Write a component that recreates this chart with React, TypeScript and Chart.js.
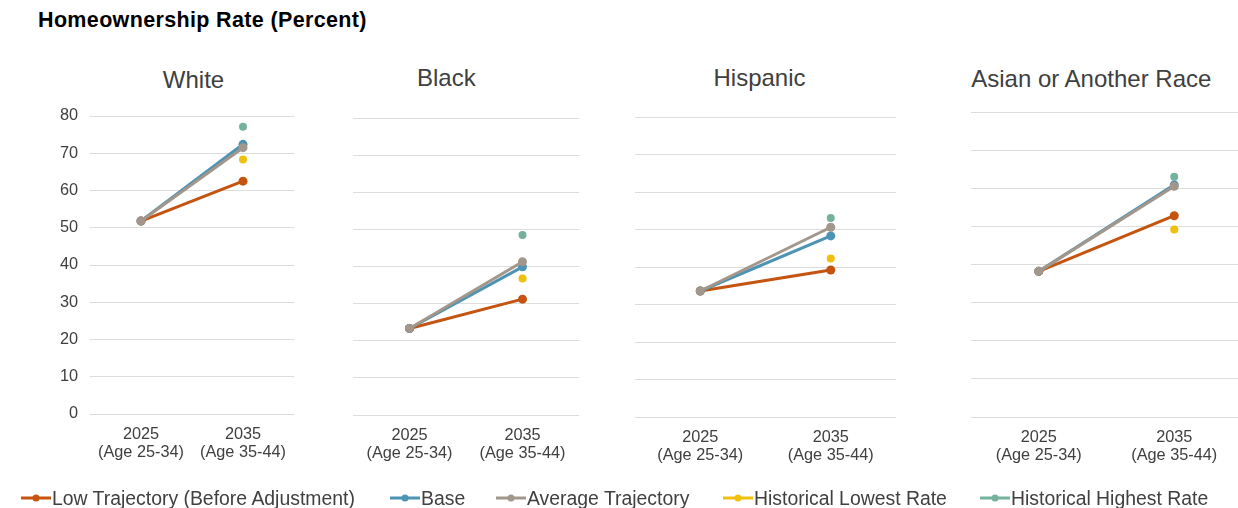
import React, { useEffect, useRef } from "react";
import { Chart, registerables } from "chart.js";

Chart.register(...registerables);

// ---------- data ----------
const mainTitle = "Homeownership Rate (Percent)";
const categories = [
  ["2025", "(Age 25-34)"],
  ["2035", "(Age 35-44)"],
];
const panelTitles = ["White", "Black", "Hispanic", "Asian or Another Race"];
const seriesNames = [
  "Low Trajectory (Before Adjustment)",
  "Base",
  "Average Trajectory",
  "Historical Lowest Rate",
  "Historical Highest Rate",
];
const seriesColors = ["#C4540F", "#4D93B4", "#A3968B", "#F0C00C", "#74B29C"];

// per panel: [2025, 2035]
const lowTrajectory = [
  [51.8, 62.5],
  [23.3, 31.2],
  [33.6, 39.2],
  [38.2, 52.8],
];
const base = [
  [51.8, 72.4],
  [23.3, 39.9],
  [33.6, 48.3],
  [38.2, 60.9],
];
const averageTrajectory = [
  [51.8, 71.5],
  [23.3, 41.3],
  [33.6, 50.6],
  [38.2, 60.5],
];
// per panel: value at 2035 only
const historicalLowest = [68.3, 36.8, 42.3, 49.2];
const historicalHighest = [77.1, 48.5, 53.1, 63.0];

const yMin = 0;
const yMax = 80;
const yStep = 10;

// ---------- layout ----------
const FONT = "'Liberation Sans', Arial, Helvetica, sans-serif";
const TEXT = "#404040";

const panelBoxes = [
  { left: 40, plotLeft: 90, plotRight: 294, plotTop: 116, plotBottom: 414, titleCenter: 193.5, titleTop: 68, showY: true },
  { left: 353, plotLeft: 353, plotRight: 579, plotTop: 118, plotBottom: 415, titleCenter: 446.3, titleTop: 66.4, showY: false },
  { left: 635, plotLeft: 635, plotRight: 896, plotTop: 117, plotBottom: 417, titleCenter: 759.5, titleTop: 66.4, showY: false },
  { left: 971, plotLeft: 971, plotRight: 1242, plotTop: 112, plotBottom: 417, titleCenter: 1091.3, titleTop: 67, showY: false },
];
const M = 24; // spare margin around each panel canvas
const X_AXIS_H = 60;

const legendLefts = [21, 390, 496, 723, 980];

function Panel({ index }: { index: number }) {
  const ref = useRef<HTMLCanvasElement | null>(null);
  const box = panelBoxes[index];
  const canvasLeft = box.left - M;
  const canvasTop = box.plotTop - M;
  const width = box.plotRight - box.left + 2 * M;
  const height = box.plotBottom - box.plotTop + X_AXIS_H + 2 * M;

  useEffect(() => {
    if (!ref.current) return;
    const lineSeries = [lowTrajectory, base, averageTrajectory];
    const datasets: any[] = [];
    lineSeries.forEach((s, i) => {
      datasets.push({
        label: seriesNames[i],
        data: s[index],
        borderColor: seriesColors[i],
        backgroundColor: seriesColors[i],
        pointBackgroundColor: seriesColors[i],
        pointBorderColor: seriesColors[i],
        borderWidth: 3,
        pointRadius: 4.5,
        pointBorderWidth: 0,
        order: 4 - i,
      });
    });
    [historicalLowest, historicalHighest].forEach((s, j) => {
      const i = j + 3;
      datasets.push({
        label: seriesNames[i],
        data: [null, s[index]],
        borderColor: seriesColors[i],
        backgroundColor: seriesColors[i],
        pointBackgroundColor: seriesColors[i],
        pointBorderColor: seriesColors[i],
        showLine: false,
        borderWidth: 3,
        pointRadius: 4,
        pointBorderWidth: 0,
        order: 0,
      });
    });

    let pad = { top: M, left: M, right: M, bottom: M };
    const chart = new Chart(ref.current, {
      type: "line",
      data: { labels: categories, datasets },
      options: {
        responsive: false,
        animation: false,
        devicePixelRatio: 1,
        layout: { padding: { ...pad } },
        plugins: { legend: { display: false }, tooltip: { enabled: false }, title: { display: false } },
        scales: {
          x: {
            offset: true,
            grid: { display: false, drawTicks: false },
            border: { display: false },
            ticks: {
              color: TEXT,
              font: { family: FONT, size: 16.3, lineHeight: 1.12 },
              padding: 11,
              maxRotation: 0,
              autoSkip: false,
            },
            afterFit: (scale: any) => {
              scale.height = X_AXIS_H;
            },
          },
          y: {
            min: yMin,
            max: yMax,
            grid: { color: "#DDDDDD", lineWidth: 1, drawTicks: false },
            border: { display: false },
            ticks: {
              display: box.showY,
              stepSize: yStep,
              color: TEXT,
              font: { family: FONT, size: 16.3 },
              padding: 12,
            },
            afterFit: (scale: any) => {
              scale.width = box.plotLeft - box.left;
            },
          },
        },
      },
    });

    // nudge layout padding so the plot area lands where the reference has it
    const want = {
      left: box.plotLeft - canvasLeft,
      right: box.plotRight - canvasLeft,
      top: box.plotTop - canvasTop,
      bottom: box.plotBottom - canvasTop,
    };
    for (let k = 0; k < 3; k++) {
      const ca = chart.chartArea;
      const next = {
        left: pad.left + (want.left - ca.left),
        right: pad.right + (ca.right - want.right),
        top: pad.top + (want.top - ca.top),
        bottom: pad.bottom + (ca.bottom - want.bottom),
      };
      if (
        Math.abs(next.left - pad.left) < 0.25 &&
        Math.abs(next.right - pad.right) < 0.25 &&
        Math.abs(next.top - pad.top) < 0.25 &&
        Math.abs(next.bottom - pad.bottom) < 0.25
      )
        break;
      pad = next;
      (chart.options as any).layout.padding = { ...pad };
      chart.update("none");
    }
    return () => chart.destroy();
  }, [index]);

  return (
    <>
      <div
        style={{
          position: "absolute",
          left: box.titleCenter - 200,
          width: 400,
          top: box.titleTop,
          textAlign: "center",
          fontFamily: FONT,
          fontSize: 24,
          lineHeight: "24px",
          color: TEXT,
          whiteSpace: "nowrap",
        }}
      >
        {panelTitles[index]}
      </div>
      <canvas
        ref={ref}
        width={width}
        height={height}
        style={{ position: "absolute", left: canvasLeft, top: canvasTop, width, height }}
      />
    </>
  );
}

export default function App() {
  return (
    <div
      style={{
        position: "fixed",
        left: 0,
        top: 0,
        width: 1238,
        height: 508,
        overflow: "hidden",
        background: "#FFFFFF",
      }}
    >
      <div
        style={{
          position: "absolute",
          left: 38,
          top: 9.5,
          fontFamily: FONT,
          fontWeight: "bold",
          fontSize: 21.5,
          lineHeight: "21.5px",
          color: "#000000",
          whiteSpace: "nowrap",
          letterSpacing: 0.35,
        }}
      >
        {mainTitle}
      </div>
      {panelBoxes.map((_, i) => (
        <Panel key={i} index={i} />
      ))}
      {seriesNames.map((name, i) => (
        <div
          key={name}
          style={{
            position: "absolute",
            left: legendLefts[i],
            top: 487.5,
            height: 20,
            display: "flex",
            alignItems: "center",
            whiteSpace: "nowrap",
          }}
        >
          <svg width={30} height={20} style={{ display: "block" }}>
            <line x1={0} y1={10} x2={30} y2={10} stroke={seriesColors[i]} strokeWidth={3} />
            <circle cx={15} cy={10} r={3.5} fill={seriesColors[i]} />
          </svg>
          <span
            style={{
              marginLeft: 1,
              fontFamily: FONT,
              fontSize: 19.4,
              lineHeight: "20px",
              color: TEXT,
            }}
          >
            {name}
          </span>
        </div>
      ))}
    </div>
  );
}
